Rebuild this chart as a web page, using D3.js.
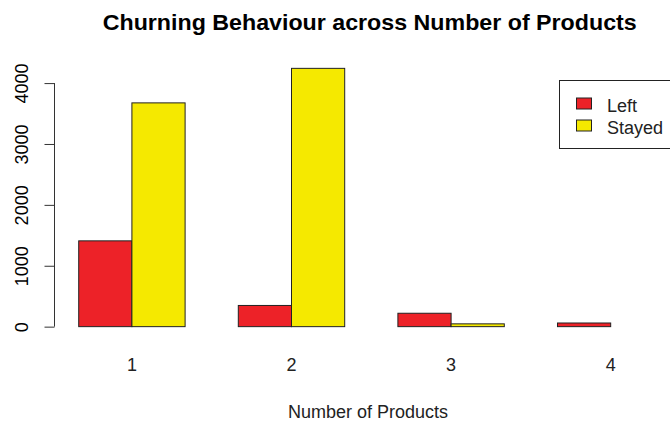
<!DOCTYPE html>
<html>
<head>
<meta charset="utf-8">
<script src="https://cdn.jsdelivr.net/npm/d3@7"></script>
<style>
  body { margin: 0; background: #fff; }
  text { font-family: "Liberation Sans", Arial, sans-serif; fill: #000; }
</style>
</head>
<body>
<div id="chart"></div>
<script>
// data
const products = ["1", "2", "3", "4"];
const leftCounts = [1409, 348, 220, 60];
const stayedCounts = [3675, 4242, 46, 0];
const seriesNames = ["Left", "Stayed"];
const seriesColors = ["#ED2228", "#F5E900"];
const yTicks = [0, 1000, 2000, 3000, 4000];

const width = 670, height = 424;

const svg = d3.select("#chart")
  .append("svg")
  .attr("width", width)
  .attr("height", height);

// R barplot layout: bars of width 1, group gap of 1
const x = d3.scaleLinear()
  .domain([0.56, 12.44])
  .range([55.3, 687.3]);

const y = d3.scaleLinear()
  .domain([-170, 4412])
  .range([337, 58]);

const bars = [];
products.forEach(function(p, i) {
  [leftCounts[i], stayedCounts[i]].forEach(function(v, j) {
    bars.push({ group: i, series: j, value: v });
  });
});

// Bars
svg.selectAll("rect.bar")
  .data(bars)
  .join("rect")
    .attr("class", "bar")
    .attr("x", function(d) { return x(1 + d.group * 3 + d.series); })
    .attr("width", function(d) { return x(2) - x(1); })
    .attr("y", function(d) { return y(d.value); })
    .attr("height", function(d) { return y(0) - y(d.value); })
    .attr("fill", function(d) { return seriesColors[d.series]; })
    .attr("stroke", "#222")
    .attr("stroke-width", 1);

// Y axis
const yAxis = svg.append("g")
  .attr("transform", "translate(54.5,0)")
  .call(d3.axisLeft(y).tickValues(yTicks).tickSize(10).tickSizeOuter(0).tickFormat(d3.format("d")));
yAxis.select(".domain")
  .attr("d", "M0," + y(0) + "V" + y(4000))
  .attr("stroke", "#333");
yAxis.selectAll(".tick line").attr("stroke", "#333");
yAxis.selectAll(".tick text")
  .attr("x", null).attr("dy", null)
  .attr("transform", "translate(-27,0) rotate(-90)")
  .attr("text-anchor", "middle")
  .style("font-size", "18px")
  .style("font-family", "Liberation Sans, Arial, sans-serif")
  .attr("fill", "#222");

// Category labels
svg.selectAll("text.cat")
  .data(products)
  .join("text")
    .attr("class", "cat")
    .attr("x", function(d, i) { return x(2 + i * 3); })
    .attr("y", 371)
    .attr("text-anchor", "middle")
    .style("font-size", "18px")
    .style("fill", "#222")
    .text(function(d) { return d; });

// Title
svg.append("text")
  .attr("x", 369.7)
  .attr("y", 29.5)
  .attr("text-anchor", "middle")
  .attr("textLength", 534)
  .attr("lengthAdjust", "spacingAndGlyphs")
  .style("font-size", "22.4px")
  .style("font-weight", "bold")
  .text("Churning Behaviour across Number of Products");

// X axis label
svg.append("text")
  .attr("x", 368)
  .attr("y", 418)
  .attr("text-anchor", "middle")
  .style("font-size", "18px")
  .style("fill", "#222")
  .text("Number of Products");

// Legend
const legend = svg.append("g");
legend.append("rect")
  .attr("x", 559.5).attr("y", 80.5)
  .attr("width", 140).attr("height", 68)
  .attr("fill", "none").attr("stroke", "#222");
seriesNames.forEach(function(name, i) {
  legend.append("rect")
    .attr("x", 576.5).attr("y", 98 + i * 22)
    .attr("width", 15).attr("height", 11)
    .attr("fill", seriesColors[i]).attr("stroke", "#222");
  legend.append("text")
    .attr("x", 607).attr("y", 112 + i * 22)
    .style("font-size", "18px")
    .style("fill", "#222")
    .text(name);
});
</script>
</body>
</html>
